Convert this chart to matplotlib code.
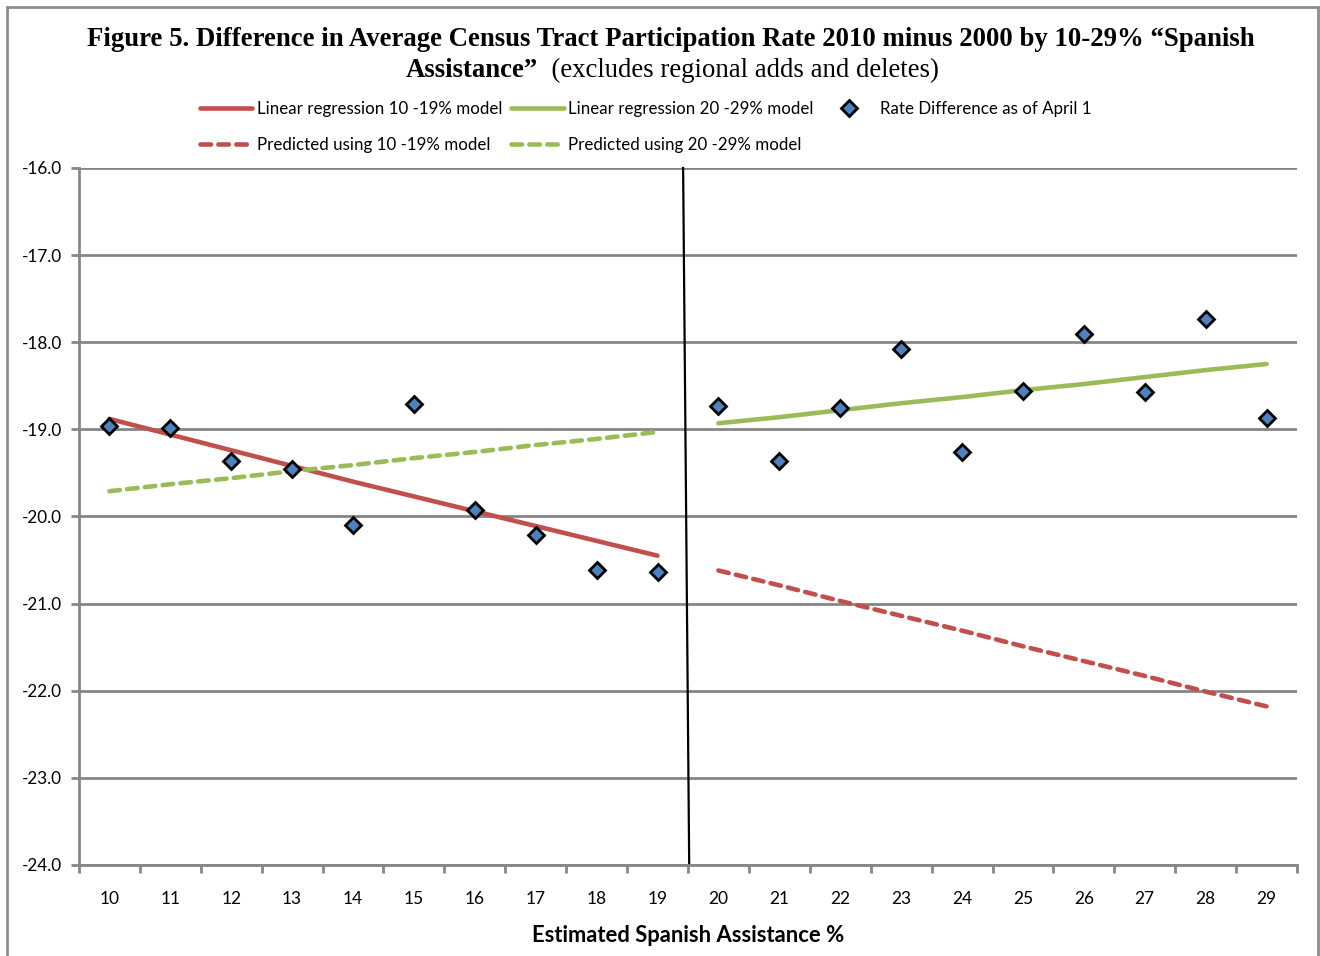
import matplotlib
matplotlib.use("Agg")
import matplotlib.pyplot as plt
from matplotlib.patches import Rectangle
from matplotlib.ticker import FixedLocator, NullFormatter, FormatStrFormatter

plt.rcParams["axes.unicode_minus"] = False

# Spanish assistance categories (percent)
low_pct = [10, 11, 12, 13, 14, 15, 16, 17, 18, 19]
high_pct = [20, 21, 22, 23, 24, 25, 26, 27, 28, 29]

# Average tract rate difference, 2010 minus 2000
rate_low = [-18.96, -18.99, -19.36, -19.46, -20.10, -18.71, -19.93, -20.21, -20.61, -20.64]
rate_high = [-18.73, -19.36, -18.76, -18.08, -19.26, -18.56, -17.91, -18.57, -17.73, -18.87]

# Regression lines and the values they predict on the other band
fit_low = [-18.88, -19.06, -19.24, -19.42, -19.60, -19.77, -19.94, -20.11, -20.28, -20.45]
fit_high = [-18.93, -18.86, -18.78, -18.70, -18.63, -18.55, -18.48, -18.40, -18.32, -18.25]
pred_low_model = [-20.62, -20.79, -20.97, -21.14, -21.31, -21.49, -21.66, -21.83, -22.01, -22.18]
pred_high_model = [-19.71, -19.63, -19.56, -19.48, -19.41, -19.33, -19.26, -19.18, -19.11, -19.03]

RED = "#C0504D"
GREEN = "#9BBB59"
BLUE = "#4F81BD"
GRID = "#868686"
FONT = "Lato"
DASH = (0, (2.3, 1.6))

fig = plt.figure(figsize=(13.2, 9.56), dpi=100)
ax = fig.add_axes([0.0598, 0.0952, 0.9228, 0.7291])

l1, = ax.plot(low_pct, fit_low, color=RED, lw=3.3, solid_capstyle="round", zorder=3)
l2, = ax.plot(high_pct, fit_high, color=GREEN, lw=3.3, solid_capstyle="round", zorder=3)
l3, = ax.plot(high_pct, pred_low_model, color=RED, lw=3.3, ls=DASH,
              dash_capstyle="round", zorder=3)
l4, = ax.plot(low_pct, pred_high_model, color=GREEN, lw=3.3, ls=DASH,
              dash_capstyle="round", zorder=3)
pts, = ax.plot(low_pct + high_pct, rate_low + rate_high, ls="none", marker="D",
               ms=8.3, mfc=BLUE, mec="black", mew=2, zorder=4)

# divider between the two bands
ax.plot([19.42, 19.52], [-16, -24], color="black", lw=1.6, zorder=2, clip_on=False)

ax.set_xlim(9.5, 29.5)
ax.set_ylim(-24, -16)
ax.yaxis.set_major_locator(FixedLocator([-24, -23, -22, -21, -20, -19, -18, -17, -16]))
ax.yaxis.set_major_formatter(FormatStrFormatter("%.1f"))
ax.xaxis.set_major_locator(FixedLocator([x + 0.5 for x in [9] + low_pct + high_pct]))
ax.xaxis.set_major_formatter(NullFormatter())
ax.xaxis.set_minor_locator(FixedLocator(low_pct + high_pct))
ax.xaxis.set_minor_formatter(FormatStrFormatter("%d"))
ax.tick_params(axis="x", which="major", length=6, width=2, color=GRID, direction="out")
ax.tick_params(axis="x", which="minor", length=0, pad=19, labelsize=12.5)
ax.tick_params(axis="y", length=6, width=2, color=GRID, pad=6, labelsize=12.3)
for lab in ax.get_xticklabels(minor=True) + ax.get_yticklabels():
    lab.set_fontfamily(FONT)

ax.grid(axis="y", color=GRID, lw=2)
ax.set_axisbelow(True)
for side in ["top", "right"]:
    ax.spines[side].set_visible(False)
for side in ["left", "bottom"]:
    ax.spines[side].set_color(GRID)
    ax.spines[side].set_linewidth(2)

ax.set_xlabel("Estimated Spanish Assistance %", fontfamily=FONT, fontweight="bold",
              fontsize=15.8, labelpad=13)

leg = fig.legend([l1, l3, l2, l4, pts],
                 ["Linear regression 10 -19% model", "Predicted using 10 -19% model",
                  "Linear regression 20 -29% model", "Predicted using 20 -29% model",
                  "Rate Difference as of April 1"],
                 ncol=3, loc="center", bbox_to_anchor=(0.489, 0.8672), frameon=False,
                 prop={"family": FONT, "size": 12.2}, handlelength=3.1,
                 handletextpad=0.25, columnspacing=0.55, labelspacing=1.15, borderpad=0)

fig.text(0.508, 0.959,
         "Figure 5. Difference in Average Census Tract Participation Rate 2010 minus 2000 by 10-29% \u201cSpanish",
         ha="center", va="center", fontfamily="Liberation Serif", fontweight="bold", fontsize=19.3)

# second title line: bold part plus plain note, centred together
t_bold = fig.text(0.5, 0.926, "Assistance\u201d", ha="left", va="center",
                  fontfamily="Liberation Serif", fontweight="bold", fontsize=19.3)
t_note = fig.text(0.5, 0.926, "  (excludes regional adds and deletes)", ha="left", va="center",
                  fontfamily="Liberation Serif", fontsize=19.3)
fig.canvas.draw()
r = fig.canvas.get_renderer()
w_bold = t_bold.get_window_extent(r).width
w_note = t_note.get_window_extent(r).width
fw = fig.bbox.width
x0 = 0.509 - (w_bold + w_note) / 2 / fw
t_bold.set_x(x0)
t_note.set_x(x0 + w_bold / fw)

fig.patches.append(Rectangle((7 / 1320, -0.02), 1311 / 1320, 1.02 - 7 / 956,
                             transform=fig.transFigure, fill=False, ec="#8C8C8C", lw=2))

fig.savefig("out.png", dpi=100)
